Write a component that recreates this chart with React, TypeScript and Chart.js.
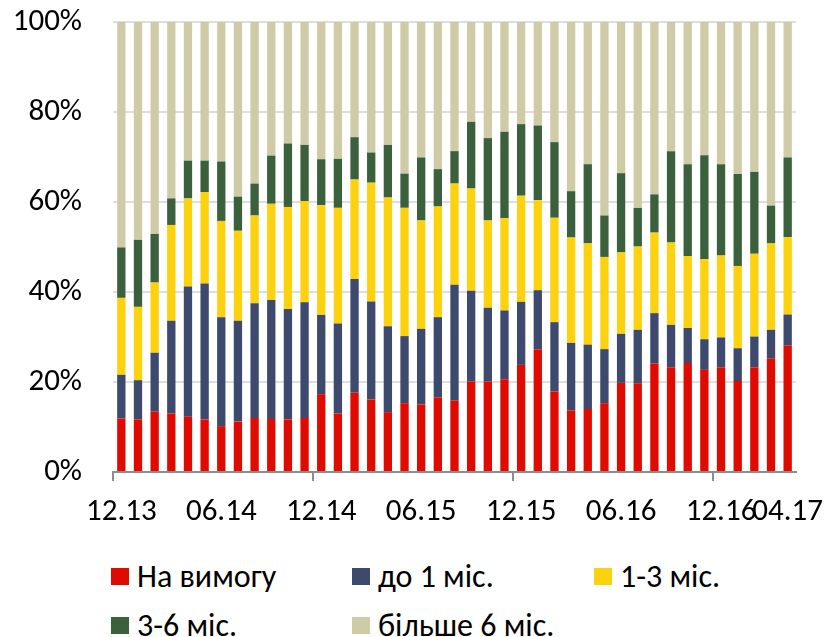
import React, { useEffect, useRef } from "react";
import { Chart, registerables } from "chart.js";

Chart.register(...registerables);

const months: string[] = [
  "12.13","01.14","02.14","03.14","04.14","05.14","06.14","07.14","08.14","09.14","10.14","11.14",
  "12.14","01.15","02.15","03.15","04.15","05.15","06.15","07.15","08.15","09.15","10.15","11.15",
  "12.15","01.16","02.16","03.16","04.16","05.16","06.16","07.16","08.16","09.16","10.16","11.16",
  "12.16","01.17","02.17","03.17","04.17",
];
const shownLabels: string[] = ["12.13","06.14","12.14","06.15","12.15","06.16","12.16","04.17"];
const yTicks: number[] = [0, 20, 40, 60, 80, 100];

const onDemand: number[] = [
  11.9,11.7,13.4,13.0,12.3,11.7,10.2,11.2,12.0,11.8,11.7,12.0,
  17.3,13.0,17.6,16.1,13.3,15.3,15.0,16.6,15.9,20.1,20.1,20.6,
  23.8,27.3,17.9,13.7,14.0,15.3,19.8,19.7,24.1,23.3,24.2,22.7,
  23.3,20.2,23.3,25.2,28.1,
];
const upTo1m: number[] = [
  9.7,8.7,13.1,20.6,28.9,30.2,24.2,22.4,25.5,26.4,24.5,25.7,
  17.6,20.0,25.3,21.8,19.1,14.9,16.8,17.8,25.7,20.2,16.4,15.3,
  14.0,13.1,15.4,15.0,14.3,12.0,10.9,11.9,11.2,9.4,7.8,6.8,
  6.6,7.3,6.8,6.4,6.9,
];
const m1to3: number[] = [
  17.1,16.3,15.6,21.3,19.6,20.3,21.4,20.0,19.5,21.4,22.7,22.5,
  24.4,25.7,22.1,26.4,28.6,28.5,24.1,24.6,22.5,22.7,19.4,20.5,
  23.6,20.0,23.2,23.4,22.5,20.5,18.1,18.5,17.9,18.3,16.0,17.8,
  18.2,18.3,18.4,19.2,17.2,
];
const m3to6: number[] = [
  11.2,14.9,10.8,5.9,8.4,7.0,13.2,7.6,7.1,10.7,14.1,12.5,
  10.2,10.9,9.4,6.7,11.7,7.6,14.0,8.3,7.2,14.8,18.3,19.2,
  15.9,16.6,16.8,10.3,17.6,9.2,17.6,8.6,8.5,20.3,20.4,23.1,
  20.3,20.4,18.2,8.4,17.7,
];
const over6m: number[] = [
  50.1,48.4,47.1,39.2,30.8,30.8,31.0,38.8,35.9,29.7,27.0,27.3,
  30.5,30.4,25.6,29.0,27.3,33.7,30.1,32.7,28.7,22.2,25.8,24.4,
  22.7,23.0,26.7,37.6,31.6,43.0,33.6,41.3,38.3,28.7,31.6,29.6,
  31.6,33.8,33.3,40.8,30.1,
];

const seriesNames: string[] = ["На вимогу", "до 1 міс.", "1-3 міс.", "3-6 міс.", "більше 6 міс."];
const seriesColors: string[] = ["#E00B00", "#3D4A6D", "#FCD20E", "#3A613B", "#D0CBA7"];
const seriesData: number[][] = [onDemand, upTo1m, m1to3, m3to6, over6m];

const FONT = "Carlito, Calibri, Lato, 'Liberation Sans', sans-serif";

export default function App() {
  const canvasRef = useRef<HTMLCanvasElement | null>(null);

  useEffect(() => {
    const canvas = canvasRef.current;
    if (!canvas) return;
    const chart = new Chart(canvas, {
      type: "bar",
      data: {
        labels: months,
        datasets: seriesNames.map((name, i) => ({
          label: name,
          data: seriesData[i],
          backgroundColor: seriesColors[i],
          borderWidth: 0,
          barPercentage: 0.5,
          categoryPercentage: 1.0,
        })),
      },
      options: {
        animation: false,
        responsive: false,
        devicePixelRatio: 1,
        layout: { padding: { left: 0, right: 30, top: 22, bottom: 0 } },
        plugins: {
          legend: { display: false },
          tooltip: { enabled: false },
        },
        scales: {
          x: {
            stacked: true,
            offset: true,
            afterFit: (scale: any) => {
              scale.height = 78;
              scale.paddingLeft = 0;
              scale.paddingRight = 0;
              scale.paddingTop = 0;
              scale.paddingBottom = 0;
            },
            border: { display: true, color: "#8C8C8C", width: 2 },
            grid: {
              display: true,
              offset: true,
              drawOnChartArea: false,
              drawTicks: true,
              tickLength: 9,
              lineWidth: 2,
              color: (ctx: any) => (ctx.index % 12 === 0 ? "#8C8C8C" : "rgba(0,0,0,0)"),
            },
            ticks: {
              autoSkip: false,
              maxRotation: 0,
              minRotation: 0,
              padding: 13,
              color: "#000000",
              font: { family: FONT, size: 31 },
              callback: function (this: any, _v: any, index: number) {
                const lab = months[index];
                return shownLabels.includes(lab) ? lab : "";
              },
            },
          },
          y: {
            stacked: true,
            min: 0,
            max: 100,
            afterFit: (scale: any) => {
              scale.width = 113;
              scale.paddingTop = 0;
              scale.paddingBottom = 0;
              scale.paddingLeft = 0;
              scale.paddingRight = 0;
            },
            afterBuildTicks: (scale: any) => {
              scale.ticks = yTicks.map((v) => ({ value: v }));
            },
            border: { display: false },
            grid: {
              color: "#DEDEDE",
              lineWidth: 2,
              drawTicks: false,
            },
            ticks: {
              padding: 31,
              color: "#000000",
              font: { family: FONT, size: 31 },
              callback: (v: any) => `${v}%`,
            },
          },
        },
      },
    });
    return () => chart.destroy();
  }, []);

  const legendPos = [
    { x: 111, y: 576 },
    { x: 352, y: 576 },
    { x: 594, y: 576 },
    { x: 111, y: 625 },
    { x: 352, y: 625 },
  ];

  return (
    <div
      style={{
        position: "absolute",
        left: 0,
        top: 0,
        width: 826,
        height: 637,
        background: "#ffffff",
        overflow: "hidden",
      }}
    >
      <canvas ref={canvasRef} width={826} height={550} style={{ display: "block", width: 826, height: 550 }} />
      {seriesNames.map((name, i) => (
        <div
          key={name}
          style={{
            position: "absolute",
            left: legendPos[i].x,
            top: legendPos[i].y - 20,
            height: 40,
            display: "flex",
            alignItems: "center",
            fontFamily: FONT,
            fontSize: 32,
            color: "#000",
            whiteSpace: "nowrap",
          }}
        >
          <span
            style={{
              display: "inline-block",
              width: 18,
              height: 17,
              background: seriesColors[i],
              marginRight: 8,
            }}
          />
          <span>{name}</span>
        </div>
      ))}
    </div>
  );
}
